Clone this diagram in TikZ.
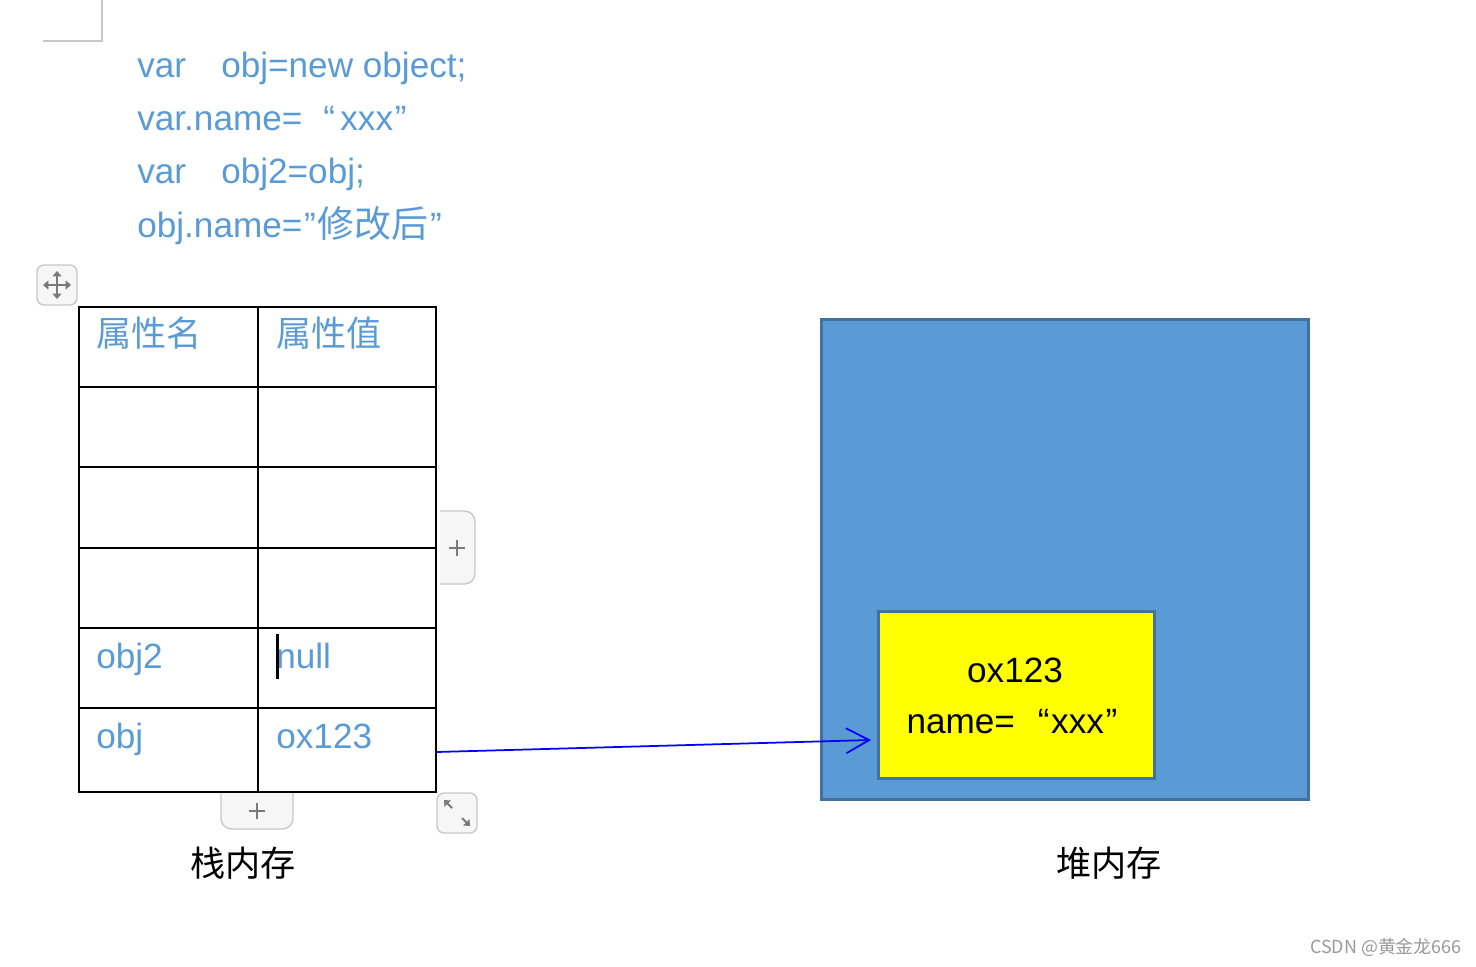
\documentclass[tikz,border=0pt]{standalone}
\usepackage{fontspec}
\setmainfont{Liberation Sans}
\newfontfamily\cjk{Noto Sans CJK SC}
\usetikzlibrary{arrows.meta}
\definecolor{codeblue}{HTML}{5B9BD5}
\definecolor{heapedge}{HTML}{41719C}
\definecolor{objyellow}{HTML}{FFFF00}
\definecolor{uifill}{HTML}{F6F6F6}
\definecolor{uiedge}{HTML}{C8C8C8}
\definecolor{uiicon}{HTML}{7A7A7A}

\begin{document}
\begin{tikzpicture}[x=0.02cm, y=-0.02cm,
    code/.style={anchor=base west, inner sep=0pt, text=codeblue, font=\fontsize{20}{24}\selectfont},
    caption/.style={anchor=base, inner sep=0pt, font=\cjk\fontsize{20}{24}\selectfont},
    grid/.style={draw=black, line width=1.2pt},
    uibtn/.style={draw=uiedge, fill=uifill, line width=0.8pt, rounded corners=4pt},
    uiarrow/.style={draw=uiicon, line width=1.2pt}]
    \useasboundingbox (0,0) rectangle (1476,966);
    % page corner mark
    \draw[uiedge, line width=0.6pt] (43,41) -- (102,41) -- (102,0);
    % code
    \node[code] (line1) at (137,78) {var\hspace{1em}obj=new object;};
    \node[code] (line2) at (137,131) {var.name=\hspace{0.6em}“\hspace{0.15em}xxx\hspace{0.05em}”};
    \node[code] (line3) at (137,184) {var\hspace{1em}obj2=obj;};
    \node[code] (line4) at (137,237) {obj.name=\hspace{0.05em}”\hspace{0.05em}{\cjk\fontsize{21}{24}\selectfont 修改后}\hspace{0.05em}”};
    % table handle
    \draw[uibtn] (37,265) rectangle (77,305);
    \draw[uiarrow, {Triangle[length=3pt,width=5pt]}-{Triangle[length=3pt,width=5pt]}] (43,285) -- (71,285);
    \draw[uiarrow, {Triangle[length=3pt,width=5pt]}-{Triangle[length=3pt,width=5pt]}] (57,271) -- (57,299);
    % stack table
    \draw[grid] (79,307) rectangle (436,792);
    \draw[grid] (258,307) -- (258,792);
    \draw[grid] (79,387) -- (436,387);
    \draw[grid] (79,467) -- (436,467);
    \draw[grid] (79,548) -- (436,548);
    \draw[grid] (79,628) -- (436,628);
    \draw[grid] (79,708) -- (436,708);
    \node[code, font=\cjk\fontsize{20}{24}\selectfont] (hdrname) at (96,346) {属性名};
    \node[code, font=\cjk\fontsize{20}{24}\selectfont] (hdrval) at (276,346) {属性值};
    \node[code] (keyobjtwo) at (96,668) {obj2};
    \node[code] (valobjtwo) at (276,668) {null};
    \fill[black] (276,634) rectangle (279,679);
    \node[code] (keyobj) at (96,748) {obj};
    \node[code] (valobj) at (276,748) {ox123};
    \node[minimum width=3.56cm, minimum height=1.68cm, inner sep=0pt] (objcell) at (347,752) {};
    % table buttons
    \draw[uibtn, rounded corners=6pt] (440,511) -- (475,511) -- (475,584) -- (440,584);
    \draw[uiarrow] (449,548) -- (465,548) (457,540) -- (457,556);
    \draw[uibtn, rounded corners=6pt] (221,793) -- (221,829) -- (293,829) -- (293,793);
    \draw[uiarrow] (249,811) -- (265,811) (257,803) -- (257,819);
    \draw[uibtn] (437,793) rectangle (477,833);
    \draw[uiarrow, -{Triangle[length=3pt,width=5pt]}] (452,808) -- (444,800);
    \draw[uiarrow, -{Triangle[length=3pt,width=5pt]}] (462,818) -- (470,826);
    % heap
    \node[draw=heapedge, fill=codeblue, line width=1.7pt, minimum width=9.76cm, minimum height=9.62cm] (heap) at (1065,559.5) {};
    \node[draw=heapedge, fill=objyellow, line width=1.7pt, minimum width=5.54cm, minimum height=3.36cm] (objbox) at (1016.5,695) {};
    \node[anchor=base, inner sep=0pt, font=\fontsize{20}{24}\selectfont] (addr) at (1015,682) {ox123};
    \node[anchor=base, inner sep=0pt, font=\fontsize{20}{24}\selectfont] (field) at (1012,733) {name=\hspace{0.65em}“\hspace{0.05em}xxx\hspace{0.05em}”};
    \coordinate (ref) at (871,740);
    \draw[blue, line width=1pt, -{Straight Barb[length=0.46cm, width=0.5cm]}] (objcell.east) -- (ref);
    % captions
    \node[caption] (stacklbl) at (243,876) {栈内存};
    \node[caption] (heaplbl) at (1109,876) {堆内存};
    \node[anchor=base east, inner sep=0pt, text=black!40, font=\cjk\fontsize{10.2}{12}\selectfont] (mark) at (1462,953) {CSDN @黄金龙666};
\end{tikzpicture}
\end{document}
